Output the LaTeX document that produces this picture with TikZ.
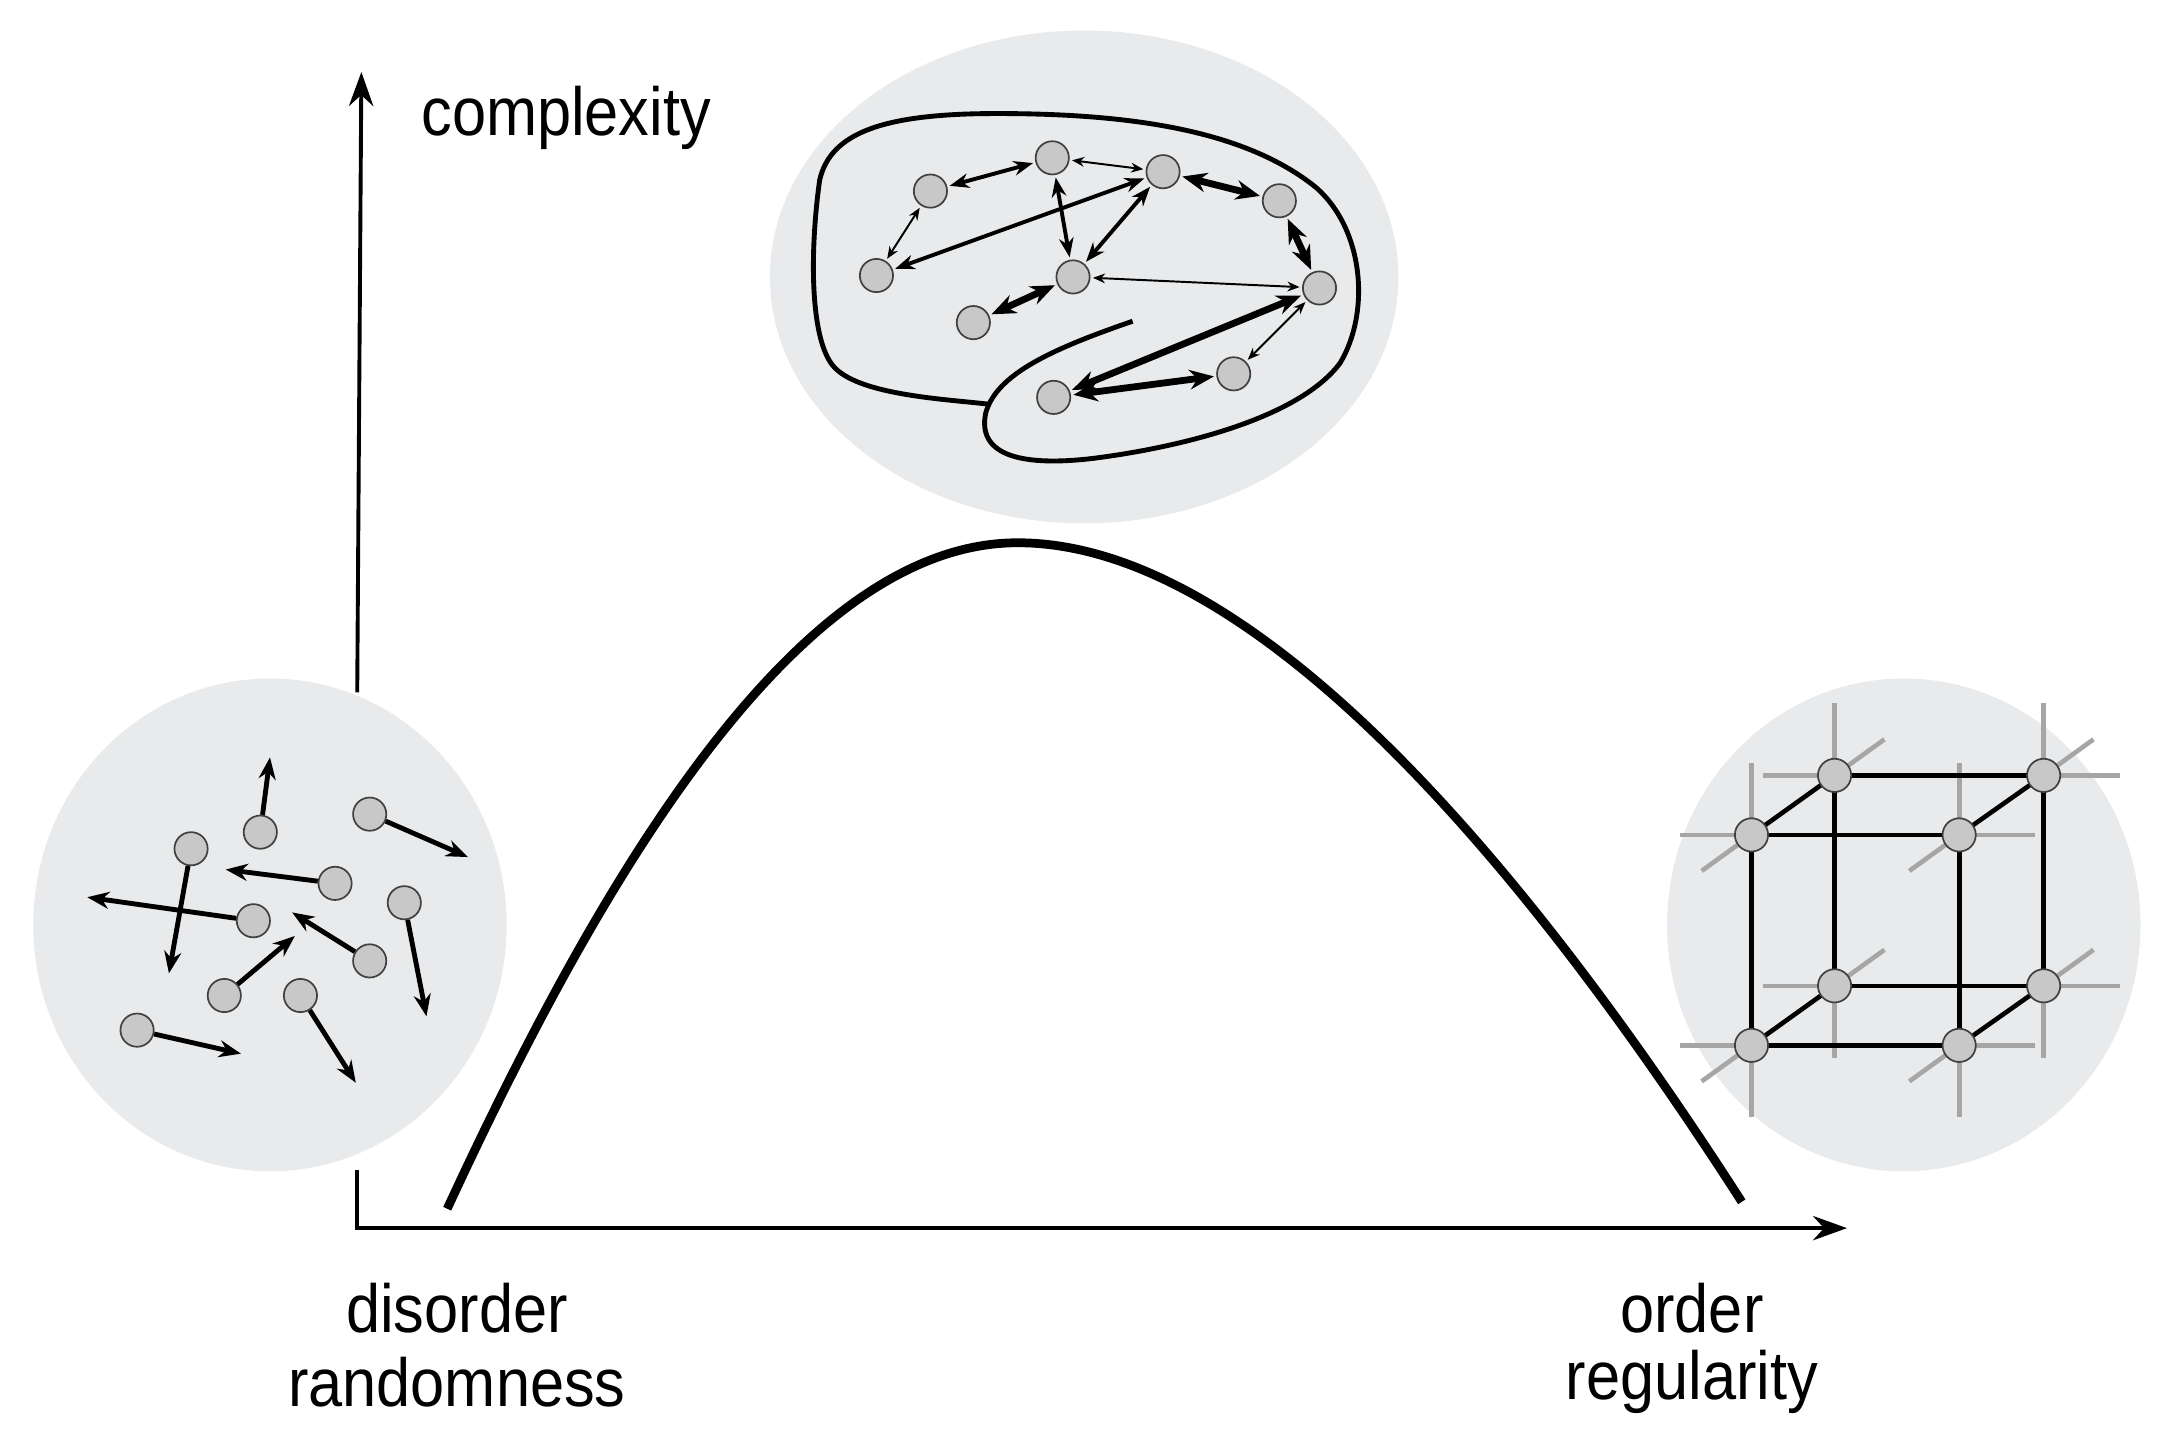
\documentclass[tikz,border=0pt]{standalone}
\usepackage{fontspec}
\setmainfont{Liberation Sans}[FakeStretch=0.9]
\usetikzlibrary{arrows.meta}
\definecolor{bg}{HTML}{E8EAEB}
\definecolor{nd}{HTML}{C8C8C8}
\begin{document}
\begin{tikzpicture}[x=0.02cm,y=-0.02cm,
  p/.style={circle,draw=black!75,fill=nd,line width=0.7pt,minimum size=0.48cm,inner sep=0pt},
  lab/.style={font=\fontsize{28}{34}\selectfont,inner sep=0pt},
  a1/.style={{Stealth[length=5pt,width=4pt]}-{Stealth[length=5pt,width=4pt]},line width=0.8pt,shorten >=1pt,shorten <=1pt},
  a2/.style={{Stealth[length=8pt,width=6pt]}-{Stealth[length=8pt,width=6pt]},line width=1.6pt,shorten >=1pt,shorten <=1pt},
  a3/.style={{Stealth[length=10pt,width=8pt]}-{Stealth[length=10pt,width=8pt]},line width=2.8pt,shorten >=1pt,shorten <=1pt},
  s/.style={-{Stealth[length=9pt,width=7pt]},line width=2pt},
  cb/.style={line width=1.9pt,black},
  st/.style={line width=1.9pt,gray!70}]
\useasboundingbox (0,0) rectangle (1568,1038);
% backgrounds
\fill[bg] (195,668) ellipse [x radius=3.42cm, y radius=3.56cm];
\fill[bg] (1375,668) ellipse [x radius=3.42cm, y radius=3.56cm];
\fill[bg] (783,200) ellipse [x radius=4.54cm, y radius=3.56cm];
% axes
\coordinate (o) at (258,887);
\coordinate (yt) at (261,52);
\coordinate (xt) at (1334,887);
\draw[line width=1.6pt,-{Stealth[length=14pt,width=10pt]}] (258,845) -- (o) -- (xt);
\draw[line width=1.6pt,-{Stealth[length=14pt,width=10pt]}] (258,500) -- (yt);
% curve
\draw[line width=3.6pt] (323,873) .. controls (440,620) and (580,392) .. (735,392)
  .. controls (880,392) and (1060,560) .. (1258,868);
% labels
\node[lab,anchor=west] (cx) at (304,85) {complexity};
\node[lab] (d1) at (330,945) {disorder};
\node[lab] (d2) at (330,998) {randomness};
\node[lab] (o1) at (1222,945) {order};
\node[lab] (o2) at (1222,998) {regularity};
% left: disorder
\foreach \n/\x/\y in {l1/138/613,l2/188/601,l3/267/588,l4/242/638,l5/183/665,l6/292/652,l7/267/694,l8/162/719,l9/217/719,l10/99/744}
  \node[p] (\n) at (\x,\y) {};
\foreach \n/\x/\y in {e1/195/547,e2/338/619,e3/163/628,e4/122/703,e5/63/648,e6/308/734,e7/211/659,e8/213/676,e9/257/782,e10/174/761}
  \coordinate (\n) at (\x,\y);
\draw[s] (l2) -- (e1); \draw[s] (l3) -- (e2); \draw[s] (l4) -- (e3);
\draw[s] (l1) -- (e4); \draw[s] (l5) -- (e5); \draw[s] (l6) -- (e6);
\draw[s] (l7) -- (e7); \draw[s] (l8) -- (e8); \draw[s] (l9) -- (e9);
\draw[s] (l10) -- (e10);
% top: brain outline
\draw[line width=2pt] (818,232) .. controls (760,252) and (720,270) .. (712,298)
  .. controls (705,330) and (740,337) .. (790,331)
  .. controls (860,322) and (940,300) .. (968,262)
  .. controls (990,225) and (985,165) .. (950,135)
  .. controls (900,95) and (820,82) .. (720,82)
  .. controls (640,82) and (600,95) .. (592,130)
  .. controls (585,180) and (585,240) .. (600,262)
  .. controls (615,285) and (680,288) .. (715,292);
\foreach \n/\x/\y in {b1/672/138,b2/760/114,b3/840/124,b4/924/145,b5/633/199,b6/775/200,b7/953/208,b8/703/233,b9/891/270,b10/761/287}
  \node[p] (\n) at (\x,\y) {};
\draw[a2] (b1) -- (b2); \draw[a1] (b2) -- (b3); \draw[a3] (b3) -- (b4);
\draw[a1] (b5) -- (b1); \draw[a2] (b3) -- (b5); \draw[a2] (b2) -- (b6);
\draw[a2] (b3) -- (b6); \draw[a3] (b4) -- (b7); \draw[a1] (b6) -- (b7);
\draw[a3] (b8) -- (b6); \draw[a3] (b7) -- (b10); \draw[a1] (b7) -- (b9);
\draw[a3] (b10) -- (b9);
% right: lattice
\foreach \n/\x/\y in {f1/1265/603,f2/1415/603,f3/1265/755,f4/1415/755,k1/1325/560,k2/1476/560,k3/1325/712,k4/1476/712}
  \coordinate (\n) at (\x,\y);
\foreach \c in {f1,f3,k1,k3} \draw[st] (\c) -- ++(-52,0);
\foreach \c in {f2,f4,k2,k4} \draw[st] (\c) -- ++(55,0);
\foreach \c in {f1,f2,k1,k2} \draw[st] (\c) -- ++(0,-52);
\foreach \c in {f3,f4,k3,k4} \draw[st] (\c) -- ++(0,52);
\foreach \c in {f1,f2,f3,f4} \draw[st] (\c) -- ++(-36,26);
\foreach \c in {k1,k2,k3,k4} \draw[st] (\c) -- ++(36,-26);
\draw[cb] (k1) -- (k2) -- (k4) -- (k3) -- cycle;
\draw[cb] (f1) -- (f2) -- (f4) -- (f3) -- cycle;
\draw[cb] (f1) -- (k1); \draw[cb] (f2) -- (k2); \draw[cb] (f3) -- (k3); \draw[cb] (f4) -- (k4);
\foreach \c in {f1,f2,f3,f4,k1,k2,k3,k4} \node[p] (n\c) at (\c) {};
\end{tikzpicture}
\end{document}
